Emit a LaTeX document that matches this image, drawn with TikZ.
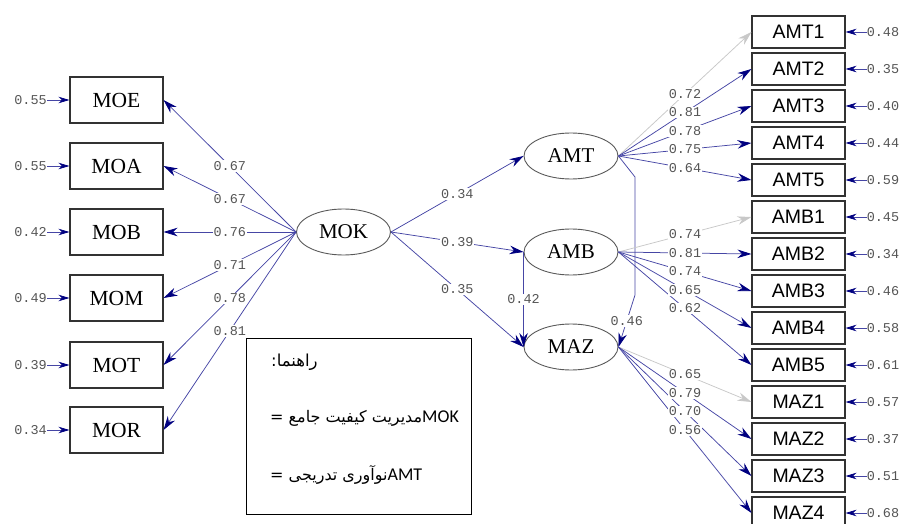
\documentclass[tikz,border=0pt]{standalone}
\usepackage{fontspec}
\setmainfont{Liberation Serif}
\newfontfamily\monofont{Liberation Mono}
\newfontfamily\sansfont{Liberation Sans}
\newfontfamily\calfont{Carlito}
\newfontfamily\arabicfont[Script=Arabic]{DejaVu Sans}
\TeXXeTstate=1
\usetikzlibrary{arrows.meta,shapes.geometric}
\definecolor{lineblue}{RGB}{70,70,165}
\definecolor{tipblue}{RGB}{0,0,128}
\definecolor{lgray}{RGB}{200,200,200}
\definecolor{boxgray}{RGB}{50,50,50}
\definecolor{numgray}{RGB}{85,85,85}
\begin{document}
\begin{tikzpicture}[x=1pt,y=-1pt,
  lbox/.style={draw=boxgray, line width=1.1pt, minimum width=93pt, minimum height=46pt, inner sep=0pt, font=\fontsize{21.5}{21.5}\selectfont},
  rbox/.style={draw=boxgray, line width=1.1pt, minimum width=93pt, minimum height=32pt, inner sep=0pt, font=\sansfont\fontsize{19.5}{19.5}\selectfont},
  latent/.style={ellipse, draw=black!65, line width=0.9pt, minimum width=94pt, minimum height=46pt, inner sep=0pt, font=\fontsize{21}{21}\selectfont},
  conn/.style={draw=lineblue, line width=0.75pt, -{Stealth[length=14pt,width=8.5pt,color=tipblue]}},
  conng/.style={draw=lgray, line width=0.75pt, -{Stealth[length=14pt,width=8.5pt]}},
  coef/.style={fill=white, inner sep=1pt, text=numgray, font=\monofont\fontsize{13.5}{13.5}\selectfont},
  errl/.style={inner sep=0pt, text=numgray, font=\monofont\fontsize{13.5}{13.5}\selectfont},
  err/.style={draw=lineblue, line width=0.75pt, -{Stealth[length=11pt,width=6.5pt,color=tipblue]}},
  legtxt/.style={inner sep=0pt, anchor=west},
]
\useasboundingbox (0,0) rectangle (903,524);
\clip (0,0) rectangle (903,524);

% left indicators
\foreach \n/\y in {MOE/100, MOA/166, MOB/232, MOM/298, MOT/365, MOR/430}
  \node[lbox] (\n) at (116.5,\y) {\n};
\foreach \n/\y/\e in {MOE/100/0.55, MOA/166/0.55, MOB/232/0.42, MOM/298/0.49, MOT/365/0.39, MOR/430/0.34}{
  \node[errl, anchor=east] (e\n) at (47,\y) {\e};
  \draw[err] (e\n.east) -- (\n.west);
}

% latent variables
\node[latent] (MOK) at (343.5,232) {MOK};
\node[latent] (AMT) at (571,156) {AMT};
\node[latent] (AMB) at (571,252) {AMB};
\node[latent] (MAZ) at (571,347) {MAZ};

% right indicators
\foreach \n [count=\i from 0] in {AMT1,AMT2,AMT3,AMT4,AMT5,AMB1,AMB2,AMB3,AMB4,AMB5,MAZ1,MAZ2,MAZ3,MAZ4}
  \node[rbox] (\n) at (798.5,{32+37.0*\i}) {\n};
\foreach \n/\e in {AMT1/0.48, AMT2/0.35, AMT3/0.40, AMT4/0.44, AMT5/0.59, AMB1/0.45, AMB2/0.34, AMB3/0.46, AMB4/0.58, AMB5/0.61, MAZ1/0.57, MAZ2/0.37, MAZ3/0.51, MAZ4/0.68}{
  \path (\n.east) ++(21,0) node[errl, anchor=west] (f\n) {\e};
  \draw[err] (f\n.west) -- (\n.east);
}

% connectors MOK -> left
\foreach \t in {MOE,MOA,MOB,MOM,MOT,MOR}
  \draw[conn] (MOK.west) -- (\t.east);
% structural paths
\draw[conn] (MOK.east) -- (AMT.west);
\draw[conn] (MOK.east) -- (AMB.west);
\draw[conn] (MOK.east) -- (MAZ.west);
\draw[conn] (AMB.west) -- (MAZ.west);
\coordinate (k1) at (635,177);
\coordinate (k2) at (635,295);
\draw[conn] (AMT.east) -- (k1) -- (k2) -- (MAZ.east);
% right loadings
\draw[conng] (AMT.east) -- (AMT1.west);
\foreach \t in {AMT2,AMT3,AMT4,AMT5} \draw[conn] (AMT.east) -- (\t.west);
\draw[conng] (AMB.east) -- (AMB1.west);
\foreach \t in {AMB2,AMB3,AMB4,AMB5} \draw[conn] (AMB.east) -- (\t.west);
\draw[conng] (MAZ.east) -- (MAZ1.west);
\foreach \t in {MAZ2,MAZ3,MAZ4} \draw[conn] (MAZ.east) -- (\t.west);

% coefficient labels
\foreach \t/\v in {MOE/0.67, MOA/0.67, MOB/0.76, MOM/0.71, MOT/0.78, MOR/0.81}
  \path (MOK.west) -- node[coef]{\v} (\t.east);
\path (MOK.east) -- node[coef]{0.34} (AMT.west);
\path (MOK.east) -- node[coef]{0.39} (AMB.west);
\path (MOK.east) -- node[coef]{0.35} (MAZ.west);
\path (AMB.west) -- node[coef]{0.42} (MAZ.west);
\path (k2) -- node[coef, pos=0.5]{0.46} (MAZ.east);
\foreach \t/\v in {AMT1/0.72, AMT2/0.81, AMT3/0.78, AMT4/0.75, AMT5/0.64}
  \path (AMT.east) -- node[coef]{\v} (\t.west);
\foreach \t/\v in {AMB1/0.74, AMB2/0.81, AMB3/0.74, AMB4/0.65, AMB5/0.62}
  \path (AMB.east) -- node[coef]{\v} (\t.west);
\foreach \t/\v in {MAZ1/0.65, MAZ2/0.79, MAZ3/0.70, MAZ4/0.56}
  \path (MAZ.east) -- node[coef]{\v} (\t.west);

% legend
\node[draw=black, line width=1pt, minimum width=225pt, minimum height=176pt, anchor=north west, inner sep=0pt] (legend) at (246,338) {};
\node[legtxt] (l1) at (271,362) {\arabicfont\fontsize{16.5}{16.5}\selectfont\beginR راهنما:\endR};
\node[legtxt] (l2) at (270,418) {\arabicfont\fontsize{16}{16}\selectfont\beginR\beginL{\calfont\fontsize{18}{18}\selectfont MOK}\endL مدیریت کیفیت جامع =\endR};
\node[legtxt] (l3) at (270,475) {\arabicfont\fontsize{16}{16}\selectfont\beginR\beginL{\calfont\fontsize{18}{18}\selectfont AMT}\endL نوآوری تدریجی =\endR};
\end{tikzpicture}
\end{document}
